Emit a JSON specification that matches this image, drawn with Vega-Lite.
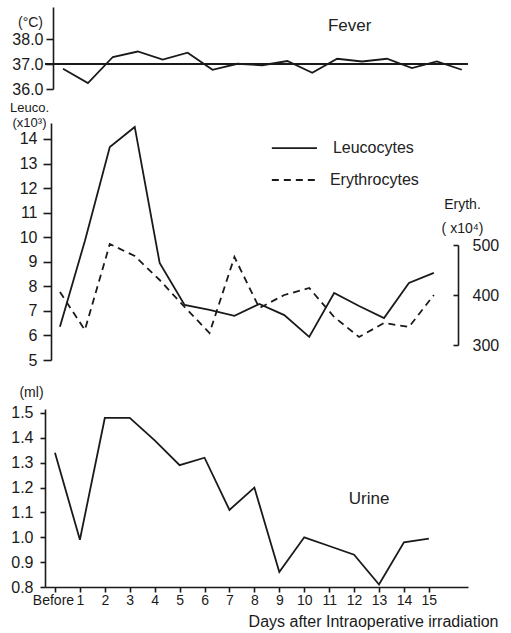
{
  "$schema": "https://vega.github.io/schema/vega-lite/v6.json",
  "width": 423,
  "height": 580,
  "autosize": "none",
  "padding": {"left": 45, "top": 7, "right": 43, "bottom": 46},
  "background": "white",
  "config": {
    "font": "Liberation Sans",
    "view": {"stroke": null},
    "axis": {
      "grid": false,
      "domainColor": "#1a1a1a",
      "domainWidth": 1.6,
      "tickColor": "#1a1a1a",
      "tickWidth": 1.6,
      "labelColor": "#1a1a1a",
      "titleColor": "#1a1a1a",
      "labelFont": "Liberation Sans",
      "titleFont": "Liberation Sans",
      "titleFontWeight": "normal",
      "labelFontSize": 16,
      "titleFontSize": 14,
      "labelFlush": false,
      "labelOverlap": false,
      "labelBound": false
    }
  },
  "datasets": {
    "fever": [
      {"day": 0, "temp": 36.81}, {"day": 1, "temp": 36.24}, {"day": 2, "temp": 37.28},
      {"day": 3, "temp": 37.5}, {"day": 4, "temp": 37.18}, {"day": 5, "temp": 37.45},
      {"day": 6, "temp": 36.77}, {"day": 7, "temp": 37.01}, {"day": 8, "temp": 36.95},
      {"day": 9, "temp": 37.12}, {"day": 10, "temp": 36.65}, {"day": 11, "temp": 37.21},
      {"day": 12, "temp": 37.1}, {"day": 13, "temp": 37.21}, {"day": 14, "temp": 36.84},
      {"day": 15, "temp": 37.1}, {"day": 16, "temp": 36.77}
    ],
    "blood": [
      {"day": 0, "leuco": 6.35, "eryth": 406}, {"day": 1, "leuco": 9.85, "eryth": 330},
      {"day": 2, "leuco": 13.67, "eryth": 502}, {"day": 3, "leuco": 14.49, "eryth": 478},
      {"day": 4, "leuco": 8.95, "eryth": 430}, {"day": 5, "leuco": 7.24, "eryth": 376},
      {"day": 6, "leuco": 7.04, "eryth": 324}, {"day": 7, "leuco": 6.8, "eryth": 476},
      {"day": 8, "leuco": 7.28, "eryth": 374}, {"day": 9, "leuco": 6.83, "eryth": 400},
      {"day": 10, "leuco": 5.94, "eryth": 414}, {"day": 11, "leuco": 7.73, "eryth": 356},
      {"day": 12, "leuco": 7.2, "eryth": 316}, {"day": 13, "leuco": 6.71, "eryth": 344},
      {"day": 14, "leuco": 8.14, "eryth": 336}, {"day": 15, "leuco": 8.55, "eryth": 400}
    ],
    "urine": [
      {"day": 0, "ml": 1.34}, {"day": 1, "ml": 0.99}, {"day": 2, "ml": 1.48},
      {"day": 3, "ml": 1.48}, {"day": 4, "ml": 1.39}, {"day": 5, "ml": 1.29},
      {"day": 6, "ml": 1.32}, {"day": 7, "ml": 1.11}, {"day": 8, "ml": 1.2},
      {"day": 9, "ml": 0.86}, {"day": 10, "ml": 1.0}, {"day": 11, "ml": 0.965},
      {"day": 12, "ml": 0.93}, {"day": 13, "ml": 0.81}, {"day": 14, "ml": 0.98},
      {"day": 15, "ml": 0.995}
    ]
  },
  "layer": [
    {
      "data": {"name": "fever"},
      "layer": [
        {
          "mark": {"type": "line", "color": "#1a1a1a", "strokeWidth": 1.8},
          "encoding": {
            "x": {"field": "day", "type": "quantitative", "scale": {"domain": [-0.722, 16.25], "nice": false, "zero": false}, "axis": null},
            "y": {
              "field": "temp", "type": "quantitative",
              "scale": {"domain": [36, 39.28], "range": [82, 0], "nice": false, "zero": false},
              "axis": {"orient": "left", "offset": -8, "values": [36, 37, 38], "format": ".1f", "tickSize": 7, "labelPadding": 3, "labelOverlap": false,
                "title": "(°C)", "titleAngle": 0, "titleX": -23, "titleY": 19, "titleAlign": "center", "titleBaseline": "alphabetic", "titleFontSize": 14}
            }
          }
        },
        {
          "data": {"values": [{}]},
          "mark": {"type": "rule", "color": "#1a1a1a", "strokeWidth": 1.8},
          "encoding": {"y": {"datum": 37, "type": "quantitative"}}
        },
        {
          "data": {"values": [{}]},
          "mark": {"type": "text", "text": "Fever", "font": "Liberation Sans", "fontSize": 17, "color": "#222", "align": "center", "baseline": "middle"},
          "encoding": {
            "x": {"datum": 11.5, "type": "quantitative", "axis": null},
            "y": {"datum": 38.52, "type": "quantitative"}
          }
        }
      ]
    },
    {
      "data": {"name": "blood"},
      "layer": [
        {
          "layer": [
            {
              "mark": {"type": "line", "color": "#1a1a1a", "strokeWidth": 1.8},
              "encoding": {
                "x": {"field": "day", "type": "quantitative", "scale": {"domain": [-0.6, 16.37], "nice": false, "zero": false}, "axis": null},
                "y": {
                  "field": "leuco", "type": "quantitative",
                  "scale": {"domain": [5, 14.65], "range": [353, 116], "nice": false, "zero": false},
                  "axis": {"orient": "left", "offset": -6, "values": [5, 6, 7, 8, 9, 10, 11, 12, 13, 14], "format": "d", "tickSize": 8, "labelPadding": 6, "labelOverlap": false,
                    "title": ["Leuco.", "(x10³)"], "titleAngle": 0, "titleX": -22, "titleY": 104, "titleAlign": "center", "titleBaseline": "alphabetic", "titleFontSize": 13, "titleLineHeight": 15}
                }
              }
            },
            {
              "data": {"values": [{}]},
              "mark": {"type": "rule", "color": "#1a1a1a", "strokeWidth": 1.8},
              "encoding": {
                "x": {"datum": 8.5, "type": "quantitative", "axis": null},
                "x2": {"datum": 10.31},
                "y": {"datum": 13.63, "type": "quantitative"}
              }
            },
            {
              "data": {"values": [{}]},
              "mark": {"type": "rule", "color": "#1a1a1a", "strokeWidth": 1.8, "strokeDash": [7, 5]},
              "encoding": {
                "x": {"datum": 8.5, "type": "quantitative", "axis": null},
                "x2": {"datum": 10.31},
                "y": {"datum": 12.33, "type": "quantitative"}
              }
            },
            {
              "data": {"values": [{}]},
              "mark": {"type": "text", "text": "Leucocytes", "font": "Liberation Sans", "fontSize": 16, "color": "#222", "align": "left", "baseline": "middle"},
              "encoding": {
                "x": {"datum": 10.95, "type": "quantitative", "axis": null},
                "y": {"datum": 13.63, "type": "quantitative"}
              }
            },
            {
              "data": {"values": [{}]},
              "mark": {"type": "text", "text": "Erythrocytes", "font": "Liberation Sans", "fontSize": 16, "color": "#222", "align": "left", "baseline": "middle"},
              "encoding": {
                "x": {"datum": 10.83, "type": "quantitative", "axis": null},
                "y": {"datum": 12.33, "type": "quantitative"}
              }
            }
          ]
        },
        {
          "mark": {"type": "line", "color": "#1a1a1a", "strokeWidth": 1.8, "strokeDash": [7, 5]},
          "encoding": {
            "x": {"field": "day", "type": "quantitative", "scale": {"domain": [-0.6, 16.37], "nice": false, "zero": false}, "axis": null},
            "y": {
              "field": "eryth", "type": "quantitative",
              "scale": {"domain": [300, 500], "range": [338, 238], "nice": false, "zero": false},
              "axis": {"orient": "right", "offset": -10, "values": [300, 400, 500], "format": "d", "tickSize": -5, "labelPadding": 19, "labelOverlap": false,
                "title": ["Eryth.", "( x10⁴)"], "titleAngle": 0, "titleX": 4, "titleY": 201, "titleAlign": "center", "titleBaseline": "alphabetic", "titleFontSize": 14, "titleLineHeight": 24}
            }
          }
        }
      ],
      "resolve": {"scale": {"y": "independent"}}
    },
    {
      "data": {"name": "urine"},
      "layer": [
        {
          "mark": {"type": "line", "color": "#1a1a1a", "strokeWidth": 1.8},
          "encoding": {
            "x": {
              "field": "day", "type": "quantitative",
              "scale": {"domain": [-0.4, 16.57], "nice": false, "zero": false},
              "axis": {"orient": "bottom", "values": [0, 1, 2, 3, 4, 5, 6, 7, 8, 9, 10, 11, 12, 13, 14, 15],
                "labelExpr": "datum.value === 0 ? 'Before' : datum.label", "labelOverlap": false, "tickSize": 5, "labelPadding": 1, "labelFontSize": 14,
                "labelOffset": {"condition": {"test": "datum.value === 0", "value": -2}, "value": 0},
                "title": "Days after Intraoperative irradiation", "titleX": 453, "titleY": 39, "titleAlign": "right", "titleBaseline": "alphabetic", "titleFontSize": 16}
            },
            "y": {
              "field": "ml", "type": "quantitative",
              "scale": {"domain": [0.8, 1.516], "range": [580, 402], "nice": false, "zero": false},
              "axis": {"orient": "left", "values": [0.8, 0.9, 1.0, 1.1, 1.2, 1.3, 1.4, 1.5], "format": ".1f", "tickSize": 5, "labelPadding": 7, "labelOverlap": false,
                "title": "(ml)", "titleAngle": 0, "titleX": -14, "titleY": 389, "titleAlign": "center", "titleBaseline": "alphabetic", "titleFontSize": 14}
            }
          }
        },
        {
          "data": {"values": [{}]},
          "mark": {"type": "text", "text": "Urine", "font": "Liberation Sans", "fontSize": 17, "color": "#222", "align": "center", "baseline": "middle"},
          "encoding": {
            "x": {
              "datum": 12.6, "type": "quantitative",
              "axis": {"orient": "bottom", "values": [0, 1, 2, 3, 4, 5, 6, 7, 8, 9, 10, 11, 12, 13, 14, 15],
                "labelExpr": "datum.value === 0 ? 'Before' : datum.label", "labelOverlap": false, "tickSize": 5, "labelPadding": 1, "labelFontSize": 14,
                "labelOffset": {"condition": {"test": "datum.value === 0", "value": -2}, "value": 0},
                "title": "Days after Intraoperative irradiation", "titleX": 453, "titleY": 39, "titleAlign": "right", "titleBaseline": "alphabetic", "titleFontSize": 16}
            },
            "y": {"datum": 1.154, "type": "quantitative"}
          }
        }
      ]
    }
  ],
  "resolve": {"scale": {"x": "independent", "y": "independent"}}
}
